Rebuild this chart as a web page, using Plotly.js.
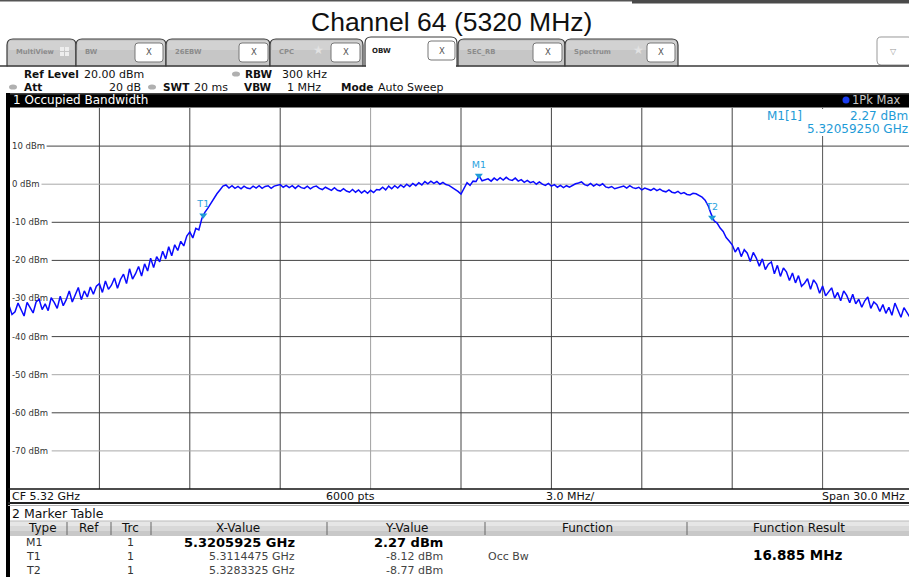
<!DOCTYPE html>
<html><head><meta charset="utf-8">
<script src="https://cdn.plot.ly/plotly-3.0.1.min.js"></script>
<style>html,body{margin:0;padding:0;background:#fff;overflow:hidden}#chart{width:909px;height:577px}</style>
</head><body><div id="chart"></div>
<script>
// ---------------- chart data ----------------
const centerGHz = 5.32;
const spanMHz = 30.0;
const freqOffsetMHz = [
-15,-14.9,-14.8,-14.7,-14.6,-14.5,-14.4,-14.3,-14.2,-14.1,
-14,-13.9,-13.8,-13.7,-13.6,-13.5,-13.4,-13.3,-13.2,-13.1,
-13,-12.9,-12.8,-12.7,-12.6,-12.5,-12.4,-12.3,-12.2,-12.1,
-12,-11.9,-11.8,-11.7,-11.6,-11.5,-11.4,-11.3,-11.2,-11.1,
-11,-10.9,-10.8,-10.7,-10.6,-10.5,-10.4,-10.3,-10.2,-10.1,
-10,-9.9,-9.8,-9.7,-9.6,-9.5,-9.4,-9.3,-9.2,-9.1,
-9,-8.9,-8.8,-8.7,-8.6,-8.5,-8.4,-8.3,-8.2,-8.1,
-8,-7.9,-7.8,-7.7,-7.6,-7.5,-7.4,-7.3,-7.2,-7.1,
-7,-6.9,-6.8,-6.7,-6.6,-6.5,-6.4,-6.3,-6.2,-6.1,
-6,-5.9,-5.8,-5.7,-5.6,-5.5,-5.4,-5.3,-5.2,-5.1,
-5,-4.9,-4.8,-4.7,-4.6,-4.5,-4.4,-4.3,-4.2,-4.1,
-4,-3.9,-3.8,-3.7,-3.6,-3.5,-3.4,-3.3,-3.2,-3.1,
-3,-2.9,-2.8,-2.7,-2.6,-2.5,-2.4,-2.3,-2.2,-2.1,
-2,-1.9,-1.8,-1.7,-1.6,-1.5,-1.4,-1.3,-1.2,-1.1,
-1,-0.9,-0.8,-0.7,-0.6,-0.5,-0.4,-0.3,-0.2,-0.1,
0,0.1,0.2,0.3,0.4,0.5,0.6,0.7,0.8,0.9,
1,1.1,1.2,1.3,1.4,1.5,1.6,1.7,1.8,1.9,
2,2.1,2.2,2.3,2.4,2.5,2.6,2.7,2.8,2.9,
3,3.1,3.2,3.3,3.4,3.5,3.6,3.7,3.8,3.9,
4,4.1,4.2,4.3,4.4,4.5,4.6,4.7,4.8,4.9,
5,5.1,5.2,5.3,5.4,5.5,5.6,5.7,5.8,5.9,
6,6.1,6.2,6.3,6.4,6.5,6.6,6.7,6.8,6.9,
7,7.1,7.2,7.3,7.4,7.5,7.6,7.7,7.8,7.9,
8,8.1,8.2,8.3,8.4,8.5,8.6,8.7,8.8,8.9,
9,9.1,9.2,9.3,9.4,9.5,9.6,9.7,9.8,9.9,
10,10.1,10.2,10.3,10.4,10.5,10.6,10.7,10.8,10.9,
11,11.1,11.2,11.3,11.4,11.5,11.6,11.7,11.8,11.9,
12,12.1,12.2,12.3,12.4,12.5,12.6,12.7,12.8,12.9,
13,13.1,13.2,13.3,13.4,13.5,13.6,13.7,13.8,13.9,
14,14.1,14.2,14.3,14.4,14.5,14.6,14.7,14.8,14.9,
15];
const levelDbm = [
-31.8,-34.2,-33.5,-31.2,-32.9,-34.6,-31.0,-32.4,-33.8,-30.9,
-30.2,-32.9,-31.4,-33.2,-29.8,-31.0,-32.6,-29.4,-31.9,-30.3,
-28.0,-30.9,-29.2,-27.1,-30.3,-28.0,-29.6,-27.0,-28.9,-26.8,
-26.1,-28.4,-25.4,-27.6,-26.5,-24.6,-27.3,-25.0,-23.6,-26.1,
-22.2,-24.9,-23.5,-21.6,-24.1,-20.9,-22.8,-19.4,-21.9,-19.0,
-20.4,-17.6,-19.6,-16.4,-18.8,-15.9,-17.4,-15.0,-16.2,-13.6,
-12.5,-14.1,-11.6,-12.0,-9.0,-7.4,-6.3,-5.0,-3.7,-2.5,
-1.5,-0.5,-0.2,-1.0,-0.4,-1.1,-0.6,-1.2,-0.5,-1.0,
-1.2,-0.5,-1.0,-0.4,-1.1,-0.6,-0.4,-1.1,-0.5,-0.3,
-0.1,-0.8,-0.3,-0.9,-0.4,-1.1,-0.4,-0.9,-1.1,-0.5,
-1.2,-0.7,-0.5,-1.1,-1.4,-0.8,-1.3,-1.6,-0.9,-1.6,
-1.8,-1.2,-1.8,-2.1,-1.4,-2.1,-1.5,-2.3,-1.7,-2.4,
-1.6,-2.2,-1.4,-1.5,-0.8,-1.5,-0.5,-1.2,-0.4,-1.0,
-0.2,-0.8,0.0,-0.6,0.2,-0.4,0.4,-0.2,0.7,0.1,
0.8,0.2,0.7,0.0,0.5,-0.1,-0.3,-0.8,-1.2,-1.9,
-2.6,-1.0,0.4,-0.3,0.8,0.7,2.2,0.9,1.1,1.4,
0.8,1.6,1.0,1.7,1.1,1.8,1.2,1.0,1.6,0.8,
1.2,0.5,1.0,0.4,0.7,0.0,0.6,0.0,-0.3,0.2,
-0.5,-0.1,-0.8,-0.3,-0.9,-0.4,-0.8,-0.3,0.1,0.3,
0.6,-0.1,-0.4,0.2,-0.5,0.0,-0.4,0.1,-0.7,-0.9,
-0.6,-1.2,-1.0,-0.7,-0.5,-1.0,-0.4,-0.9,-1.1,-0.8,
-1.5,-1.0,-1.4,-1.6,-1.1,-1.7,-1.3,-1.8,-2.0,-1.5,
-2.1,-2.3,-1.9,-2.5,-2.2,-2.7,-2.8,-2.4,-2.5,-3.0,
-3.4,-4.2,-5.6,-7.8,-9.6,-10.2,-11.5,-12.4,-14.0,-14.9,
-15.9,-17.8,-16.6,-19.0,-17.2,-18.1,-20.3,-17.9,-19.4,-21.5,
-19.6,-22.4,-21.0,-20.4,-23.5,-21.3,-24.2,-22.0,-23.0,-25.3,
-23.3,-25.9,-24.0,-26.8,-26.0,-24.8,-27.6,-25.1,-26.2,-28.6,
-26.7,-29.3,-28.1,-27.2,-29.9,-28.4,-30.6,-28.0,-29.2,-31.1,
-28.9,-31.4,-30.2,-32.3,-30.6,-29.6,-32.6,-30.9,-31.6,-33.4,
-31.6,-33.9,-32.3,-34.4,-31.2,-33.0,-34.9,-32.4,-33.6,-35.0,
-33.2];
const gridFreqMHz = [-12,-9,-6,-3,0,3,6,9,12];
const gridLevelDbm = [10,0,-10,-20,-30,-40,-50,-60,-70];
const yTickText = ['10 dBm','0 dBm','-10 dBm','-20 dBm','-30 dBm','-40 dBm','-50 dBm','-60 dBm','-70 dBm'];
const markerNames = ['M1','T1','T2'];
const markerFreqGHz = [5.3205925, 5.3114475, 5.3283325];
const markerLevelDbm = [2.27, -8.12, -8.77];
const markerTrc = ['1','1','1'];
const markerXText = ['5.3205925 GHz','5.3114475 GHz','5.3283325 GHz'];
const markerYText = ['2.27 dBm','-8.12 dBm','-8.77 dBm'];
const occBwText = '16.885 MHz';
const tableHeaders = ['Type','Ref','Trc','X-Value','Y-Value','Function','Function Result'];

// ---------------- layout helpers ----------------
const W=909, H=577, F='DejaVu Sans';
const X=p=>p/W, Y=p=>1-p/H;
const shapes=[], ann=[];
function rect(x0,y0,x1,y1,fill,lc,lw,layer){shapes.push({type:'rect',xref:'paper',yref:'paper',x0:X(x0),x1:X(x1),y0:Y(y1),y1:Y(y0),fillcolor:fill||'rgba(0,0,0,0)',line:{color:lc||'rgba(0,0,0,0)',width:lc?(lw||1):0},layer:layer||'above'});}
function line(x0,y0,x1,y1,c,w,layer){shapes.push({type:'line',xref:'paper',yref:'paper',x0:X(x0),x1:X(x1),y0:Y(y0),y1:Y(y1),line:{color:c,width:w||1},layer:layer||'above'});}
function ell(cx,cy,rx,ry,fill){shapes.push({type:'circle',xref:'paper',yref:'paper',x0:X(cx-rx),x1:X(cx+rx),y0:Y(cy+ry),y1:Y(cy-ry),fillcolor:fill,line:{width:0}});}
function rpath(x0,y0,x1,y1,r){const P=(x,y)=>X(x).toFixed(5)+','+Y(y).toFixed(5);
 return 'M'+P(x0+r,y0)+' L'+P(x1-r,y0)+' Q'+P(x1,y0)+' '+P(x1,y0+r)+' L'+P(x1,y1-r)+' Q'+P(x1,y1)+' '+P(x1-r,y1)+' L'+P(x0+r,y1)+' Q'+P(x0,y1)+' '+P(x0,y1-r)+' L'+P(x0,y0+r)+' Q'+P(x0,y0)+' '+P(x0+r,y0)+' Z';}
function rr(x0,y0,x1,y1,r,fill,lc,lw){shapes.push({type:'path',xref:'paper',yref:'paper',path:rpath(x0,y0,x1,y1,r),fillcolor:fill,line:{color:lc,width:lw||1},layer:'above'});}
function txt(x,y,t,size,color,anchor,family){ann.push({xref:'paper',yref:'paper',x:X(x),y:Y(y),text:t,showarrow:false,xanchor:anchor||'left',yanchor:'middle',borderpad:0,font:{family:family||F,size:size,color:color}});}

// top strip
rect(0,0,909,1.5,'#555555');
rect(632,0,909,3.5,'#4a4a4a');
// title
txt(451,22,'Channel 64 (5320 MHz)',26.5,'#111','center','Liberation Sans');
// tabs
const tabs=[
 {t:'MultiView',x0:7,x1:76,box:null},
 {t:'BW',x0:76,x1:166,box:[135,163]},
 {t:'26EBW',x0:166,x1:270,box:[239,268]},
 {t:'CPC',x0:270,x1:363,box:[331,360],star:318},
 {t:'SEC_RB',x0:458,x1:565,box:[533,562]},
 {t:'Spectrum',x0:565,x1:678,box:[647,675],star:638}
];
tabs.forEach(tb=>{
 rr(tb.x0,39,tb.x1,72,6,'#c6c6c6','#3a3a3a',1.2);
 rect(tb.x0+2,41,tb.x1-2,50,'#d2d2d2');
 txt(tb.x0+8,52,'<b>'+tb.t+'</b>',6.8,'#8c8c8c');
 if(tb.box){rr(tb.box[0],43,tb.box[1],62,3,'#ffffff','#777',1);txt((tb.box[0]+tb.box[1])/2,52,'X',8.5,'#555','center');}
 if(tb.star){txt(tb.star,50,'★',12,'#e2e2e2','center');}
});
rect(60,47,64,51,'#eeeeee');rect(65,47,69,51,'#eeeeee');rect(60,52,64,56,'#eeeeee');rect(65,52,69,56,'#eeeeee');
rr(365,37,457,72,6,'#ffffff','#3a3a3a',1.2);
txt(371,51,'<b>OBW</b>',7,'#222');
rr(428,41,455,60,3,'#ffffff','#777',1);txt(441.5,51,'X',8.5,'#555','center');
rr(877,37,912,65,4,'#ffffff','#999',1);txt(893,51,'▽',8,'#999','center');
rect(0,66.5,909,93,'#ffffff');
line(0,66,366,66,'#3a3a3a',1.5);line(456,66,909,66,'#3a3a3a',1.5);
// info lines
txt(23,74,'<b>Ref Level</b>',10.5,'#111');
txt(83,74,'20.00 dBm',11,'#111');
ell(236,74,4,2.6,'#b0b0b0');
txt(244,74,'<b>RBW</b>',10.5,'#111');
txt(281,74,'300 kHz',11,'#111');
ell(13,87,4,2.6,'#b0b0b0');
txt(23,87,'<b>Att</b>',10.5,'#111');
txt(142,87,'20 dB',11,'#111','right');
ell(152,87,4,2.6,'#b0b0b0');
txt(162,87,'<b>SWT</b>',10.5,'#111');
txt(193,87,'20 ms',11,'#111');
txt(243,87,'<b>VBW</b>',10.5,'#111');
txt(322,87,'1 MHz',11,'#111','right');
txt(340,87,'<b>Mode</b>',10.5,'#111');
txt(377,87,'Auto Sweep',11,'#111');
// black title bar
rect(6,93,909,107.5,'#000000');
rect(6,93,909,94.5,'#444444');
txt(12,100.5,'1 Occupied Bandwidth',12,'#ffffff');
ell(846,100,3.5,3.5,'#1a3cf0');
txt(851,100.5,'1Pk Max',11.5,'#c8c8c8');
// left border
rect(6,93,10,577,'#000000');
// plot grid (data coordinates)
const gridColV=['#444','#444','#444','#a0a0a0','#444','#444','#444','#444','#555'];
gridFreqMHz.forEach((f,i)=>shapes.push({type:'line',xref:'x',yref:'paper',x0:f,x1:f,y0:Y(489),y1:Y(108),line:{color:gridColV[i],width:1},layer:'below'}));
const gridColH=['#444','#a8a8a8','#444','#444','#a8a8a8','#444','#a8a8a8','#444','#a8a8a8'];
gridLevelDbm.forEach((v,i)=>shapes.push({type:'line',xref:'paper',yref:'y',x0:X(16+5.1*yTickText[i].length),x1:1,y0:v,y1:v,line:{color:gridColH[i],width:1},layer:'below'}));
// plot bottom / bottom bar
line(8,489,909,489,'#111',1.5);
txt(11,496.5,'CF '+centerGHz.toFixed(2)+' GHz',11,'#111');
txt(350,496.5,'6000 pts',11,'#111','center');
txt(570,496.5,(spanMHz/10).toFixed(1)+' MHz/',11,'#111','center');
txt(906,496.5,'Span '+spanMHz.toFixed(1)+' MHz',11,'#111','right');
line(8,503,909,503,'#222',2);
line(8,505.5,909,505.5,'#b0b0b0',1);
// marker info box
rect(757,109,909,136,'#ffffff');
const mcol='#1e9bd7';
txt(766,116,'M1[1]',12,mcol);
txt(909,116,markerYText[0],12,mcol,'right');
txt(909,128.5,'5.32059250 GHz',12,mcol,'right');
// marker table
txt(11,513.5,'2 Marker Table',12.5,'#111');
rect(10,521,909,526,'#e6e6e6');rect(10,526,909,531,'#d8d8d8');rect(10,531,909,536,'#c8c8c8');
line(10,521,909,521,'#bbbbbb',1);
[67,111,151,327,485,687].forEach(x=>line(x,522,x,535,'#666',1));
const hx=[42,89,130,238,407,587,799];
tableHeaders.forEach((h,i)=>txt(hx[i],528,h,12,'#111','center'));
const rowY=[542.5,556,570];
markerNames.forEach((m,i)=>{
 txt(25,rowY[i],m,11,'#333');
 txt(130,rowY[i],markerTrc[i],11,'#333','center');
 if(i===0){txt(296,rowY[i],'<b>'+markerXText[i]+'</b>',13,'#000','right');txt(444,rowY[i],'<b>'+markerYText[i]+'</b>',13,'#000','right');}
 else{txt(296,rowY[i],markerXText[i],11,'#444','right');txt(444,rowY[i],markerYText[i],11,'#444','right');}
});
txt(487,556.5,'Occ Bw',11,'#444');
txt(798,555,'<b>'+occBwText+'</b>',13.5,'#000','center');

// ---------------- traces ----------------
const markerOffsetMHz = markerFreqGHz.map(f=>(f-centerGHz)*1000);
const traces=[
 {x:freqOffsetMHz,y:levelDbm,type:'scatter',mode:'lines',line:{color:'#0a0aff',width:1.5},hoverinfo:'skip',showlegend:false},
 {x:markerOffsetMHz,y:markerLevelDbm,type:'scatter',mode:'markers+text',text:markerNames,textposition:'top center',
  textfont:{family:F,size:9.5,color:'#2aa3de'},marker:{symbol:'triangle-down',size:7,color:'#1e9bd7'},cliponaxis:false,showlegend:false,hoverinfo:'skip'}
];
const pxPerMHz = 904/spanMHz;
const layout={
 width:W,height:H,margin:{l:0,r:0,t:0,b:0,pad:0},paper_bgcolor:'#ffffff',plot_bgcolor:'#ffffff',showlegend:false,
 xaxis:{domain:[X(9),1],range:[-15,-15+(W-9)/pxPerMHz],showgrid:false,zeroline:false,showline:false,showticklabels:false,ticks:'',fixedrange:true},
 yaxis:{domain:[Y(489),Y(108)],range:[-80,20],showgrid:false,zeroline:false,showline:false,ticks:'',
  tickvals:gridLevelDbm,ticktext:yTickText,ticklabelposition:'inside',tickfont:{family:F,size:8.5,color:'#333'},layer:'below traces',fixedrange:true},
 shapes:shapes,annotations:ann
};
Plotly.newPlot('chart',traces,layout,{displayModeBar:false,staticPlot:true});
</script>
</body></html>
